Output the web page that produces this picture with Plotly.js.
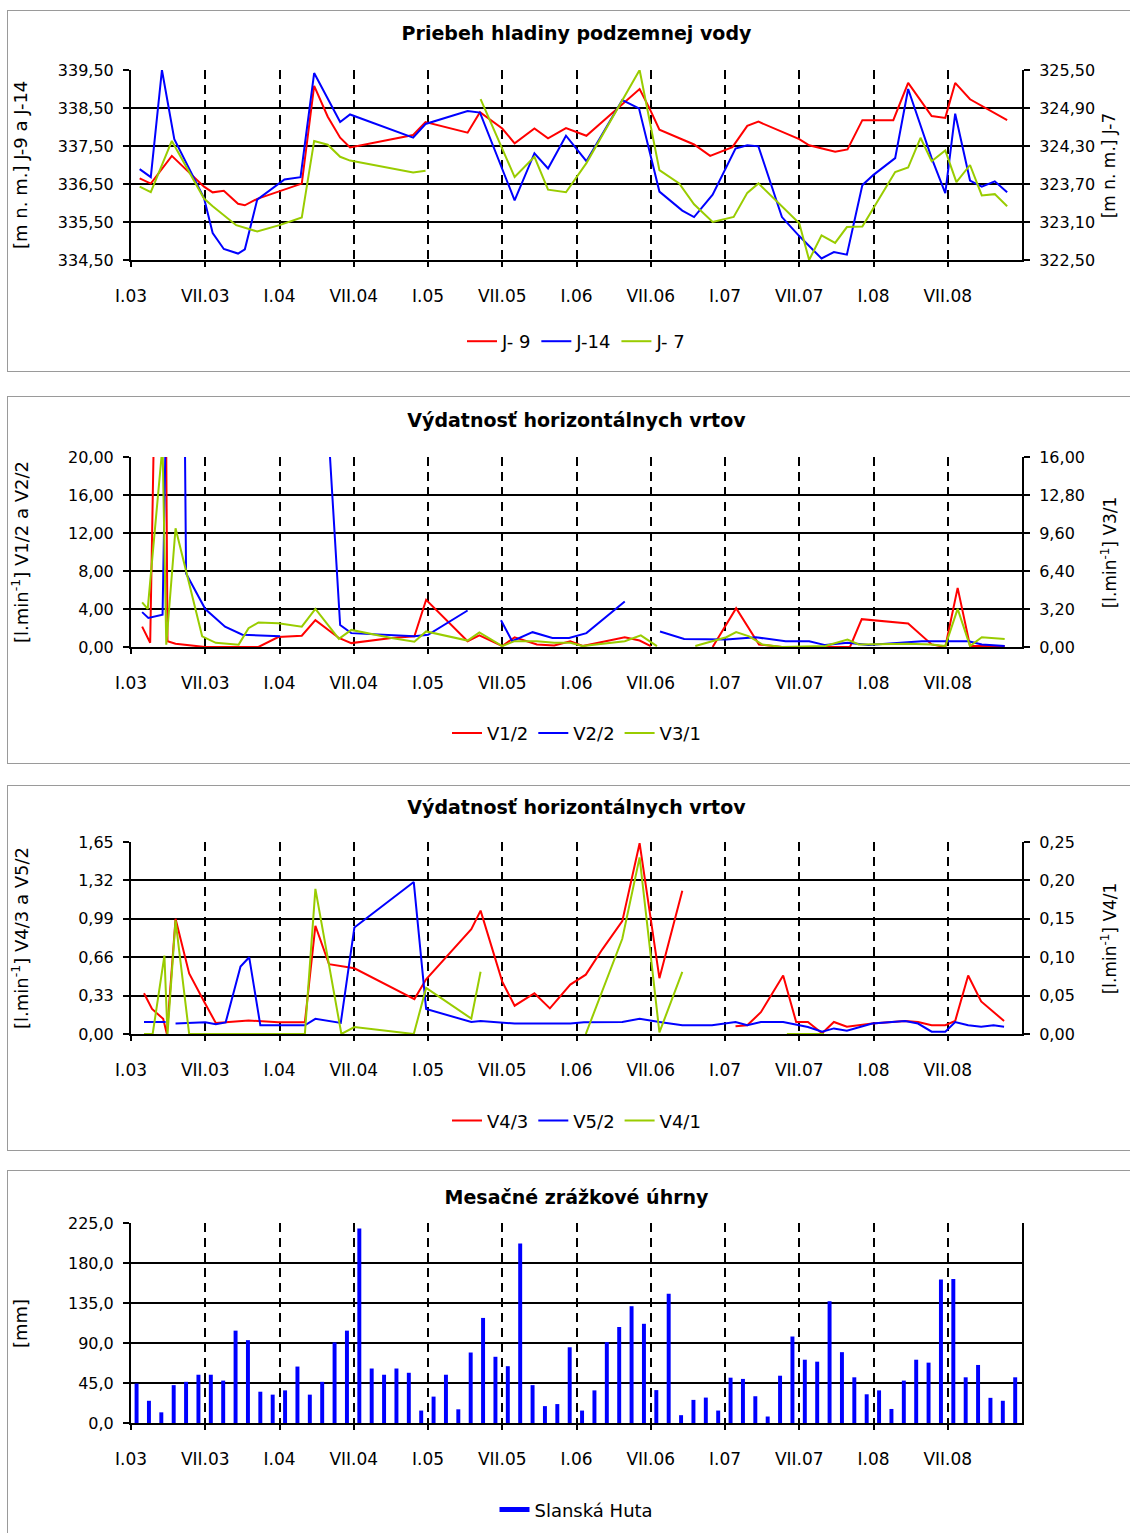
<!DOCTYPE html>
<html>
<head>
<meta charset="utf-8">
<script src="https://cdn.plot.ly/plotly-3.0.1.min.js"></script>
<style>
html,body{margin:0;padding:0;background:#fff;overflow:hidden;width:1130px;height:1533px;}
.frame{position:absolute;left:7px;width:1140px;border:1px solid #9a9a9a;box-sizing:border-box;}
.plot{position:absolute;left:7px;}
</style>
</head>
<body>
<div class="frame" style="top:10px;height:362px"></div>
<div class="frame" style="top:396px;height:368px"></div>
<div class="frame" style="top:785px;height:366px"></div>
<div class="frame" style="top:1170px;height:380px"></div>
<div id="p1" class="plot" style="top:10px"></div>
<div id="p2" class="plot" style="top:396px"></div>
<div id="p3" class="plot" style="top:785px"></div>
<div id="p4" class="plot" style="top:1170px"></div>
<script>
// ---------- tick labels (x axis: months since Jan 2003) ----------
const tickMonths = [0,6,12,18,24,30,36,42,48,54,60,66];
const tickLabels = ["I.03","VII.03","I.04","VII.04","I.05","VII.05","I.06","VII.06","I.07","VII.07","I.08","VII.08"];

// ---------- Panel 1: groundwater level ----------
const t_J9 = [0.7,1.6,3.3,5.9,6.6,7.5,8.65,9.2,10.2,12.0,13.8,14.8,15.9,16.9,17.7,22.8,23.8,27.2,28.2,30.0,31.0,32.6,33.7,35.15,36.8,41.1,41.9,42.7,44.8,45.5,46.8,48.6,49.8,50.7,54.0,54.8,56.9,57.9,59.1,61.6,62.8,64.7,65.8,66.6,67.8,68.9,70.8];
const J9   = [336.65,336.51,337.24,336.43,336.28,336.32,335.98,335.94,336.11,336.32,336.51,339.08,338.27,337.72,337.46,337.79,338.13,337.85,338.39,337.96,337.57,337.96,337.70,337.97,337.77,339.00,338.49,337.93,337.64,337.54,337.24,337.47,338.03,338.14,337.68,337.52,337.35,337.41,338.18,338.18,339.16,338.29,338.24,339.16,338.73,338.52,338.18];
const t_J14 = [0.7,1.6,2.5,3.5,5.9,6.6,7.5,8.65,9.2,10.2,12.4,13.7,14.8,16.9,17.7,22.8,23.8,27.2,28.2,31.0,32.6,33.7,35.15,36.8,39.7,41.05,42.7,44.55,45.5,47.0,48.85,49.8,50.7,52.6,54.0,55.8,56.8,57.85,59.1,60.0,61.75,62.8,64.7,65.8,66.6,67.8,68.75,69.8,70.8];
const J14   = [336.89,336.68,339.50,337.68,336.13,335.21,334.79,334.67,334.78,336.09,336.62,336.68,339.42,338.13,338.33,337.72,338.08,338.42,338.38,336.07,337.31,336.91,337.77,337.10,338.71,338.49,336.30,335.80,335.63,336.22,337.43,337.52,337.49,335.63,335.13,334.54,334.71,334.64,336.47,336.74,337.18,339.00,337.18,336.26,338.35,336.59,336.43,336.57,336.28];
const t_J7 = [0.7,1.6,3.3,5.9,6.6,8.5,10.2,12.0,13.8,14.8,15.9,16.9,17.7,22.8,23.8,26.0,28.25,31.0,32.6,33.7,35.15,36.8,41.1,42.7,44.3,45.5,47.0,48.7,49.8,50.7,54.0,54.8,55.8,56.9,57.85,59.1,61.75,62.8,63.8,64.7,65.8,66.7,67.8,68.75,69.8,70.8];
const J7   = [323.66,323.57,324.38,323.47,323.35,323.05,322.95,323.05,323.17,324.38,324.32,324.13,324.07,323.88,323.91,null,325.04,323.81,324.13,323.61,323.57,324.03,325.50,323.92,323.71,323.38,323.10,323.18,323.56,323.71,323.08,322.50,322.89,322.77,323.02,323.03,323.89,323.96,324.43,324.06,324.23,323.73,324.00,323.52,323.54,323.35];

// ---------- Panel 2: yield V1/2, V2/2, V3/1 ----------
const t_V12 = [0.9,1.55,1.95,2.8,2.95,3.6,6.0,10.3,11.9,13.8,14.9,16.8,17.8,21.05,22.9,23.85,27.2,28.15,30.0,31.0,32.8,34.2,35.5,36.5,39.9,41.1,42.0,44.5,47.0,48.9,50.75,52.6,58.1,59.05,62.8,64.7,65.8,66.8,67.8,70.6];
const V12   = [2.14,0.44,30,30,0.6,0.34,0,0,1.05,1.19,2.82,0.95,0.41,0.95,1.12,4.97,0.61,1.22,0.10,1.02,0.27,0.17,0.61,0.10,1.02,0.68,0.10,null,0,4.08,0.27,0,0,2.93,2.48,0.27,0,6.22,0.10,0.10];
const t_V22 = [0.9,1.4,2.55,2.9,4.3,4.45,6.0,7.6,9.0,12.05,14.0,15.85,16.9,17.8,22.9,24.0,27.2,28.5,29.9,30.8,32.45,34.05,35.4,36.8,39.9,41.3,42.75,44.7,48.1,50.5,52.9,54.8,56.1,57.9,59.6,62.3,63.9,65.8,67.7,68.75,70.6];
const V22   = [3.67,3.06,3.40,30,30,7.75,4.0,2.14,1.29,1.12,null,25,2.31,1.46,1.12,1.29,3.84,null,2.82,0.61,1.56,0.95,0.95,1.46,4.8,null,1.63,0.85,0.78,1.02,0.61,0.61,0.20,0.44,0.20,0.44,0.61,0.61,0.61,0.27,0.10];
const t_V31 = [0.9,1.35,2.55,2.85,3.6,4.55,5.75,6.85,8.7,9.5,10.3,11.9,13.8,14.9,16.8,17.8,21.05,22.9,23.85,27.2,28.15,30.0,31.0,32.8,34.2,35.5,36.5,39.9,41.2,42.5,44.0,45.6,48.1,48.9,49.95,51.0,52.6,56.1,57.9,58.8,62.8,64.7,65.8,66.8,67.8,68.75,70.6];
const V31   = [3.76,3.21,17,0.2,10.0,5.93,0.9,0.35,0.2,1.58,2.07,1.99,1.71,3.21,0.68,1.44,0.76,0.44,1.31,0.54,1.22,0.08,0.49,0.49,0.35,0.35,0.08,0.49,0.98,0.08,null,0.08,0.82,1.25,0.90,0.22,0,0.08,0.63,0.22,0.27,0.22,0.08,3.21,0.08,0.82,0.68];

// ---------- Panel 3: yield V4/3, V5/2, V4/1 ----------
const t_V43 = [1.05,1.7,2.6,2.9,3.6,4.7,6.0,6.85,7.65,9.5,11.9,14.05,14.9,16.0,18.05,22.9,23.85,27.5,28.25,30.0,31.0,32.6,33.85,35.5,36.75,38.1,39.7,41.1,42.7,44.55,46.5,48.85,49.8,50.9,52.7,53.75,54.7,55.85,56.8,57.85,59.9,62.55,63.6,64.7,65.8,66.6,67.65,68.7,70.55];
const V43   = [0.35,0.215,0.13,0.0,0.99,0.52,0.26,0.095,0.10,0.117,0.10,0.10,0.93,0.60,0.565,0.30,0.47,0.90,1.06,0.45,0.243,0.35,0.22,0.425,0.51,0.73,0.97,1.64,0.48,1.23,null,0.067,0.075,0.187,0.503,0.103,0.103,0.006,0.103,0.062,0.09,0.112,0.103,0.075,0.075,0.112,0.503,0.28,0.112];
const t_V52 = [1.05,2.8,3.2,3.6,6.0,6.85,7.65,8.85,9.55,10.45,11.9,14.05,14.9,15.95,16.95,18.05,22.85,23.85,27.5,28.25,30.0,31.0,35.5,36.6,39.7,41.1,42.7,44.55,46.95,48.85,49.8,50.9,52.7,54.7,55.85,56.8,57.85,59.9,62.55,63.6,64.7,65.8,66.6,67.65,68.7,69.7,70.55];
const V52   = [0.103,0.103,null,0.09,0.10,0.084,0.10,0.58,0.66,0.075,0.075,0.075,0.13,0.11,0.095,0.915,1.306,0.215,0.103,0.112,0.098,0.09,0.09,0.10,0.103,0.13,0.103,0.075,0.075,0.103,0.075,0.103,0.103,0.06,0.02,0.048,0.028,0.09,0.112,0.09,0.02,0.02,0.103,0.075,0.062,0.075,0.062];
const t_V41 = [1.05,1.75,2.7,2.95,3.6,4.7,7.65,10.45,14.05,14.9,17.0,18.05,22.85,23.85,27.5,28.25,32.0,36.75,39.7,41.1,42.7,44.55,48.0,53.0,56.0];
const V41   = [0,0,0.102,0,0.148,0,0,0,0,0.189,0,0.009,0,0.06,0.02,0.081,null,0,0.124,0.23,0.002,0.081,null,0,0];

// ---------- Panel 4: monthly precipitation (Jan 2003 .. Dec 2008) ----------
const rain = [44.4,25,12,42.6,46.3,54.3,54.3,47.7,103.9,93.2,35.2,31.9,
              36.7,63.5,31.9,46.3,90.7,103.9,218.8,61.3,54.3,61.3,56.5,14,
              29.7,54.3,15.4,79.3,118.2,74.5,63.9,201.9,42.6,19,21.3,85.2,
              14,36.7,91,108,131.4,111.6,37,145.4,8.8,26,28.6,14,
              51,49.6,30.1,7.3,53.2,97.3,71.2,69,137,79.7,51.4,32.3,
              36.7,15.8,47.7,71.2,67.9,161.5,161.9,51.4,65.3,28.3,25,51.4];

// ---------- styling ----------
const FONT = "DejaVu Sans, Verdana, sans-serif";
const RED = "#FF0000", BLUE = "#0000FF", GREEN = "#99CC00";
const W = 1125, ML = 124, MR = 110, PW = 891;

function xAxis(){
  return {range:[0,72], tickmode:"array", tickvals:tickMonths, ticktext:tickLabels,
    ticks:"outside", ticklen:5, tickwidth:2, tickcolor:"#000",
    showline:true, linewidth:2, linecolor:"#000",
    showgrid:true, gridcolor:"#000", gridwidth:2, griddash:"9px,6px",
    zeroline:false, fixedrange:true, ticklabelstandoff:15,
    tickfont:{family:FONT, size:17, color:"#000"}};
}
function yAxis(range, dtick, fmt, right){
  const a = {range:range, tick0:range[0], dtick:dtick, tickformat:fmt,
    ticks:"outside", ticklen:6, tickwidth:2, tickcolor:"#000",
    showline:true, linewidth:2, linecolor:"#000", zeroline:false, fixedrange:true,
    ticklabelstandoff:6,
    tickfont:{family:FONT, size:16, color:"#000"}};
  if(right){ a.overlaying="y"; a.side="right"; a.showgrid=false; }
  else { a.showgrid=true; a.gridcolor="#000"; a.gridwidth=2; }
  return a;
}
function ann(text, x, size){
  return {text:text, xref:"paper", yref:"paper", x:x, y:0.5, xanchor:"center", yanchor:"middle",
    textangle:-90, showarrow:false, font:{family:FONT, size:size, color:"#000"}};
}
function layout(o){
  const L = {width:W, height:o.H, autosize:false, separators:", ",
    margin:{l:ML, r:MR, t:o.t, b:o.H-o.t-o.ph},
    paper_bgcolor:"rgba(0,0,0,0)", plot_bgcolor:"#fff",
    title:{text:o.title, font:{family:FONT, size:19, color:"#000", weight:"bold"},
      x:0.5, xref:"paper", xanchor:"center", y:o.ty, yref:"container", yanchor:"middle"},
    xaxis:xAxis(), yaxis:yAxis(o.yr, o.yd, o.fmt, false),
    showlegend:true,
    legend:{orientation:"h", x:0.5, xanchor:"center", y:o.ly, yanchor:"middle",
      font:{family:FONT, size:18, color:"#000"}, bgcolor:"rgba(0,0,0,0)"},
    annotations:[ann(o.lt, -0.1246, 18)]};
  if(o.y2r){ L.yaxis2 = yAxis(o.y2r, o.y2d, o.fmt, true); L.annotations.push(ann(o.rt, 1.098, 17)); }
  else { L.yaxis.mirror = true; }
  return L;
}
function line(x, y, name, color, axis){
  return {type:"scatter", mode:"lines", x:x, y:y, name:name, yaxis:axis||"y",
    line:{color:color, width:2}, connectgaps:false, hoverinfo:"skip"};
}
const cfg = {staticPlot:true, displayModeBar:false};

Plotly.newPlot("p1", [
  line(t_J9, J9, "J- 9", RED),
  line(t_J14, J14, "J-14", BLUE),
  line(t_J7, J7, "J- 7", GREEN, "y2")
], layout({H:362, t:60, ph:198, title:"Priebeh hladiny podzemnej vody", ty:1-23/362,
  yr:[334.5,339.5], yd:1, y2r:[322.5,325.5], y2d:0.6, fmt:".2f", ly:-0.429,
  lt:"[m n. m.] J-9 a J-14", rt:"[m n. m.] J-7"}), cfg);

Plotly.newPlot("p2", [
  line(t_V12, V12, "V1/2", RED),
  line(t_V22, V22, "V2/2", BLUE),
  line(t_V31, V31, "V3/1", GREEN, "y2")
], layout({H:368, t:61, ph:196, title:"Výdatnosť horizontálnych vrtov", ty:1-24/368,
  yr:[0,20], yd:4, y2r:[0,16], y2d:3.2, fmt:".2f", ly:-0.454,
  lt:"[l.min<sup>-1</sup>] V1/2 a V2/2", rt:"[l.min<sup>-1</sup>] V3/1"}), cfg);

Plotly.newPlot("p3", [
  line(t_V43, V43, "V4/3", RED),
  line(t_V52, V52, "V5/2", BLUE),
  line(t_V41, V41, "V4/1", GREEN, "y2")
], layout({H:366, t:57, ph:197, title:"Výdatnosť horizontálnych vrtov", ty:1-22/366,
  yr:[0,1.65], yd:0.33, y2r:[0,0.25], y2d:0.05, fmt:".2f", ly:-0.452,
  lt:"[l.min<sup>-1</sup>] V4/3 a V5/2", rt:"[l.min<sup>-1</sup>] V4/1"}), cfg);

const rainMonths = rain.map((v,i)=>i);
Plotly.newPlot("p4", [
  {type:"bar", x:rainMonths.map(m=>m+0.45), y:rain, width:0.32, marker:{color:BLUE},
   showlegend:false, hoverinfo:"skip"},
  {type:"scatter", mode:"lines", x:[null], y:[null], name:"Slanská Huta",
   line:{color:BLUE, width:5}, showlegend:true}
], layout({H:370, t:53, ph:205, title:"Mesačné zrážkové úhrny", ty:1-27/370,
  yr:[0,225], yd:45, fmt:".1f", ly:-0.434, lt:"[mm]"}), cfg);
</script>
</body>
</html>
